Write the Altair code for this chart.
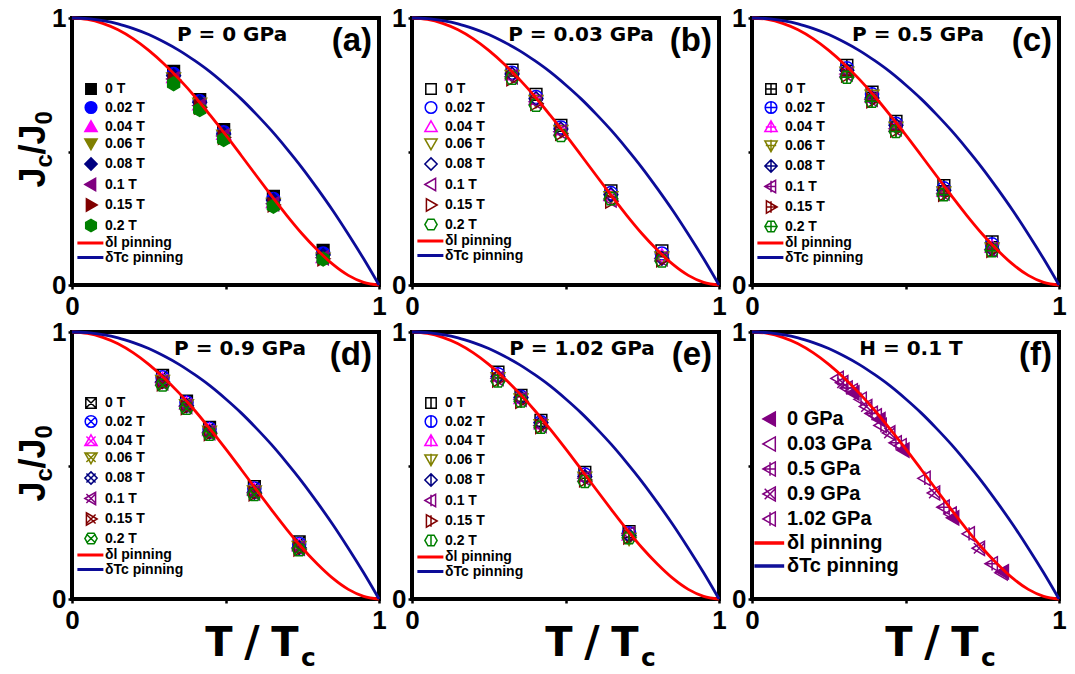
import altair as alt
import pandas as pd

# ---------------- data ----------------
T_GRID = [0.00, 0.05, 0.10, 0.15, 0.20, 0.25, 0.30, 0.35, 0.40, 0.45, 0.50,
          0.55, 0.60, 0.65, 0.70, 0.75, 0.80, 0.85, 0.90, 0.95, 1.00]
DL_PIN = [1.000, 0.995, 0.980, 0.956, 0.922, 0.879, 0.828, 0.770, 0.706, 0.636, 0.563,
          0.487, 0.410, 0.334, 0.260, 0.191, 0.130, 0.077, 0.036, 0.010, 0.000]
DTC_PIN = [1.000, 0.998, 0.990, 0.978, 0.960, 0.938, 0.910, 0.878, 0.840, 0.798, 0.750,
           0.698, 0.640, 0.578, 0.510, 0.438, 0.360, 0.278, 0.190, 0.098, 0.000]
CURVES = ["δl pinning", "δTc pinning"]
CURVE_COLORS = ["#ff0000", "#0c0c98"]

FIELDS = ["0 T", "0.02 T", "0.04 T", "0.06 T", "0.08 T", "0.1 T", "0.15 T", "0.2 T"]
FIELD_COLORS = ["#000000", "#0000ff", "#ff00ff", "#808000", "#000080", "#800080", "#800000", "#008000"]

A_T = [0.331, 0.416, 0.494, 0.656, 0.818]
A_J = [[0.800, 0.694, 0.582, 0.332, 0.130],
       [0.790, 0.688, 0.572, 0.322, 0.118],
       [0.778, 0.676, 0.565, 0.310, 0.104],
       [0.775, 0.680, 0.560, 0.305, 0.100],
       [0.784, 0.684, 0.566, 0.318, 0.112],
       [0.772, 0.672, 0.558, 0.304, 0.102],
       [0.768, 0.666, 0.553, 0.300, 0.098],
       [0.754, 0.657, 0.545, 0.295, 0.097]]

B_T = [0.326, 0.404, 0.485, 0.648, 0.814]
B_J = [[0.805, 0.714, 0.598, 0.353, 0.128],
       [0.795, 0.704, 0.590, 0.344, 0.118],
       [0.788, 0.696, 0.582, 0.336, 0.110],
       [0.784, 0.690, 0.578, 0.330, 0.104],
       [0.790, 0.698, 0.584, 0.338, 0.100],
       [0.780, 0.686, 0.574, 0.318, 0.098],
       [0.772, 0.680, 0.568, 0.314, 0.094],
       [0.774, 0.673, 0.560, 0.323, 0.090]]

C_T = [0.309, 0.391, 0.469, 0.625, 0.782]
C_J = [[0.823, 0.722, 0.613, 0.372, 0.162],
       [0.812, 0.714, 0.604, 0.362, 0.152],
       [0.800, 0.705, 0.595, 0.352, 0.142],
       [0.796, 0.710, 0.590, 0.348, 0.138],
       [0.804, 0.700, 0.598, 0.355, 0.134],
       [0.790, 0.695, 0.585, 0.344, 0.132],
       [0.786, 0.690, 0.580, 0.340, 0.130],
       [0.778, 0.688, 0.575, 0.338, 0.128]]

D_T = [0.295, 0.373, 0.448, 0.594, 0.740]
D_J = [[0.838, 0.741, 0.643, 0.421, 0.214],
       [0.830, 0.736, 0.637, 0.414, 0.206],
       [0.822, 0.731, 0.632, 0.408, 0.200],
       [0.818, 0.727, 0.628, 0.404, 0.196],
       [0.814, 0.724, 0.625, 0.400, 0.192],
       [0.810, 0.721, 0.622, 0.397, 0.190],
       [0.806, 0.717, 0.620, 0.394, 0.187],
       [0.801, 0.714, 0.617, 0.391, 0.184]]

E_T = [0.280, 0.355, 0.420, 0.563, 0.707]
E_J = [[0.850, 0.763, 0.669, 0.474, 0.252],
       [0.842, 0.757, 0.662, 0.466, 0.246],
       [0.836, 0.752, 0.657, 0.460, 0.240],
       [0.828, 0.748, 0.652, 0.455, 0.226],
       [0.832, 0.754, 0.660, 0.458, 0.238],
       [0.826, 0.748, 0.650, 0.452, 0.244],
       [0.820, 0.740, 0.646, 0.446, 0.232],
       [0.816, 0.741, 0.643, 0.440, 0.229]]

PRESSURES = ["0 GPa", "0.03 GPa", "0.5 GPa", "0.9 GPa", "1.02 GPa"]
PURPLE = "#800080"

# ---------------- marker shapes (unit paths) ----------------
SQ = "M-0.85,-0.85H0.85V0.85H-0.85Z"
CI = "M-0.95,0A0.95,0.95 0 1,0 0.95,0A0.95,0.95 0 1,0 -0.95,0Z"
TU = "M0,-1L1,0.75L-1,0.75Z"
TD = "M0,1L1,-0.75L-1,-0.75Z"
DI = "M0,-1L1,0L0,1L-1,0Z"
TL = "M-1,0L0.75,-1L0.75,1Z"
TR = "M1,0L-0.75,-1L-0.75,1Z"
HX_P = "M0,-1L0.866,-0.5L0.866,0.5L0,1L-0.866,0.5L-0.866,-0.5Z"
HX_F = "M-0.5,-0.866L0.5,-0.866L1,0L0.5,0.866L-0.5,0.866L-1,0Z"
PLUS = "M-0.85,0H0.85M0,-0.95V0.95"
CROSS = "M-0.75,-0.75L0.75,0.75M-0.75,0.75L0.75,-0.75"
VLINE = "M0,-0.95V0.95"
LINE = "M-2.1,-0.13H1.9V0.13H-2.1Z"

BASE_A = [SQ, CI, TU, TD, DI, TL, TR, HX_P]
BASE_O = [SQ, CI, TU, TD, DI, TL, TR, HX_F]

LBL_FONT = "Liberation Sans"
TTL_FONT = "DejaVu Sans"


def curves_df():
    rows = []
    for name, vals in zip(CURVES, [DL_PIN, DTC_PIN]):
        for t, v in zip(T_GRID, vals):
            rows.append({"t": t, "v": v, "series": name})
    return pd.DataFrame(rows)


def points_df(ts, table, names):
    rows = []
    for name, vals in zip(names, table):
        for t, v in zip(ts, vals):
            rows.append({"t": t, "v": v, "series": name})
    return pd.DataFrame(rows)


def text_layer(s, x, y, size, align="center", angle=0, font=LBL_FONT):
    return alt.Chart(pd.DataFrame({"s": [s]})).mark_text(
        align=align, baseline="alphabetic", fontSize=size, fontWeight="bold",
        font=font, angle=angle, color="black"
    ).encode(text="s:N", x=alt.value(x), y=alt.value(y))


W, H = 307, 267

AX = dict(title=None, grid=False, domain=False, ticks=True, tickSize=4, tickWidth=2.5,
          tickColor="black", labelFont=LBL_FONT, labelFontWeight="bold", labelFontSize=26,
          labelColor="black", labelFlush=False, labelOverlap=False, values=[0, 0.5, 1],
          labelExpr="datum.value == 0 ? '0' : (datum.value == 1 ? '1' : '')")


def panel(pts, names, strokes, fills, shapes, title, title_x, tag,
          leg_x, leg_y, leg_fs, leg_ss, leg_rp, ytitle=False, xtitle=False, msize=190):
    dom = names + CURVES
    st_range = strokes + CURVE_COLORS
    fi_range = fills + CURVE_COLORS
    sh_range = shapes + [LINE, LINE]
    leg = alt.Legend(orient="none", legendX=leg_x, legendY=leg_y, title=None,
                     labelFont=LBL_FONT, labelFontWeight="bold", labelFontSize=leg_fs,
                     labelColor="black", symbolSize=leg_ss, symbolStrokeWidth=1.5,
                     rowPadding=leg_rp, padding=0, labelOffset=7, symbolOpacity=1,
                     labelLimit=300)
    x = alt.X("t:Q", scale=alt.Scale(domain=[0, 1], nice=False, zero=False),
              axis=alt.Axis(labelPadding=4, **AX))
    y = alt.Y("v:Q", scale=alt.Scale(domain=[0, 1], nice=False, zero=False),
              axis=alt.Axis(labelPadding=2, **AX))
    stroke = alt.Stroke("series:N", scale=alt.Scale(domain=dom, range=st_range), legend=leg)
    fill = alt.Fill("series:N", scale=alt.Scale(domain=dom, range=fi_range), legend=leg)
    shape = alt.Shape("series:N", scale=alt.Scale(domain=dom, range=sh_range), legend=leg)

    points = alt.Chart(pts).mark_point(opacity=1, strokeWidth=1.5, size=msize).encode(
        x=x, y=y, stroke=stroke, fill=fill, shape=shape)
    lines = alt.Chart(curves_df()).mark_line(strokeWidth=2.8, interpolate="monotone").encode(
        x=x, y=y, stroke=stroke)
    layers = [points, lines,
              text_layer(title, title_x, 23, 20, font=TTL_FONT),
              text_layer(tag, 300, 33, 33, align="right")]
    if ytitle:
        cy = H / 2
        xb = -27
        layers += [
            text_layer("J", xb, cy + 36, 36, align="left", angle=270),
            text_layer("c", xb + 7, cy + 16, 24, align="left", angle=270),
            text_layer("/J", xb, cy + 3, 36, align="left", angle=270),
            text_layer("0", xb + 7, cy - 27, 24, align="left", angle=270),
        ]
    if xtitle:
        yb = H + 57
        layers += [
            text_layer("T", 147, yb, 40, font=TTL_FONT),
            text_layer("/", 180, yb, 42, font=TTL_FONT),
            text_layer("T", 213, yb, 40, font=TTL_FONT),
            text_layer("c", 229, yb + 10, 25, align="left", font=TTL_FONT),
        ]
    return alt.layer(*layers).properties(width=W, height=H)


transparent = ["transparent"] * 8

pa = panel(points_df(A_T, A_J, FIELDS), FIELDS, FIELD_COLORS, FIELD_COLORS, BASE_A,
           "P = 0 GPa", 160, "(a)", 12, 64, 14, 150, 0.5, ytitle=True)
pb = panel(points_df(B_T, B_J, FIELDS), FIELDS, FIELD_COLORS, transparent, BASE_O,
           "P = 0.03 GPa", 169, "(b)", 12, 64, 14, 150, 0.5)
pc = panel(points_df(C_T, C_J, FIELDS), FIELDS, FIELD_COLORS, transparent,
           [s + PLUS for s in BASE_O], "P = 0.5 GPa", 166, "(c)", 12, 64, 14, 150, 0.5)
pd_ = panel(points_df(D_T, D_J, FIELDS), FIELDS, FIELD_COLORS, transparent,
            [s + CROSS for s in BASE_O], "P = 0.9 GPa", 168, "(d)", 12, 64, 14, 150, 0.5,
            ytitle=True, xtitle=True)
pe = panel(points_df(E_T, E_J, FIELDS), FIELDS, FIELD_COLORS, transparent,
           [s + VLINE for s in BASE_O], "P = 1.02 GPa", 170, "(e)", 12, 64, 14, 150, 0.5,
           xtitle=True)

F_T = [A_T, B_T, C_T, D_T, E_T]
F_J = [A_J[5], B_J[5], C_J[5], D_J[5], E_J[5]]
f_rows = []
for name, ts, vs in zip(PRESSURES, F_T, F_J):
    for t, v in zip(ts, vs):
        f_rows.append({"t": t, "v": v, "series": name})
pf = panel(pd.DataFrame(f_rows), PRESSURES, [PURPLE] * 5,
           [PURPLE] + ["transparent"] * 4, [TL, TL, TL + PLUS, TL + CROSS, TL + VLINE],
           "H = 0.1 T", 159, "(f)", 8, 77, 20, 200, 3, xtitle=True, msize=200)

chart = alt.ConcatChart(
    concat=[pa, pb, pc, pd_, pe, pf], columns=3,
    spacing={"row": 47, "column": 33}, bounds="flush"
).resolve_scale(
    stroke="independent", fill="independent", shape="independent"
).resolve_legend(
    stroke="independent", fill="independent", shape="independent"
).configure_view(
    stroke="black", strokeWidth=4
).properties(
    background="white", padding={"left": 14, "top": 3, "right": 5, "bottom": 5}
)

chart.save("out.html", embed_options={"renderer": "svg", "actions": False})
